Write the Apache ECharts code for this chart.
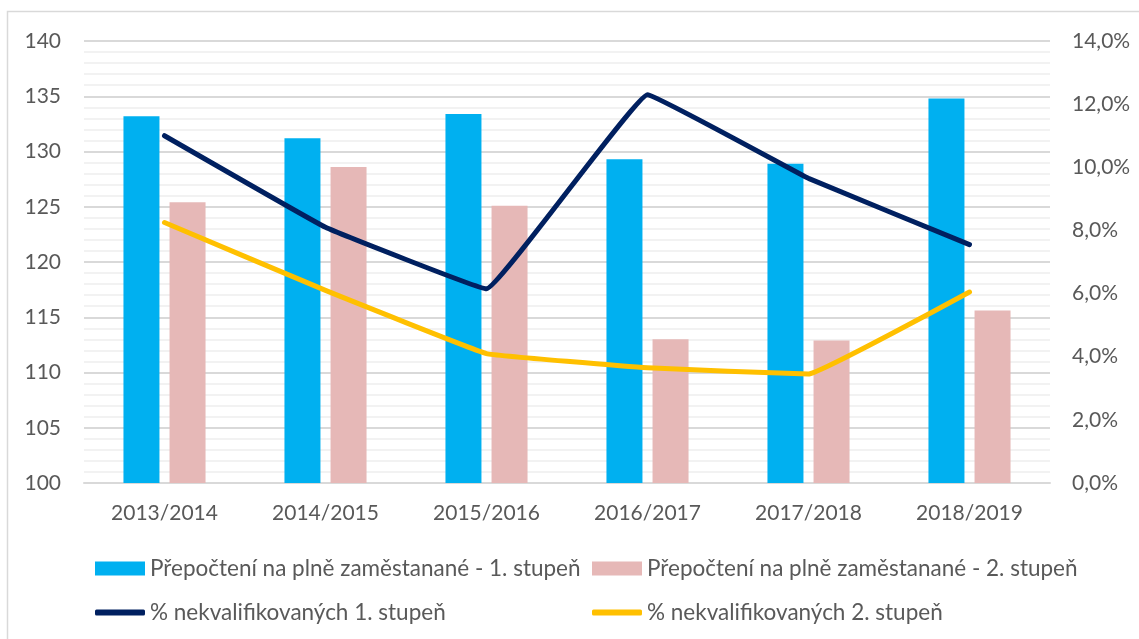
<!DOCTYPE html>
<html>
<head>
<meta charset="utf-8">
<script src="https://cdn.jsdelivr.net/npm/echarts@6/dist/echarts.min.js"></script>
<style>
    html, body { margin: 0; padding: 0; background: #fff; }
    #chart { width: 1139px; height: 639px; }
</style>
</head>
<body>
<div id="chart"></div>
<script>
    // školní roky
    const categories = ['2013/2014', '2014/2015', '2015/2016', '2016/2017', '2017/2018', '2018/2019'];
    // přepočtení na plně zaměstnané
    const fte1 = [133.2, 131.2, 133.4, 129.3, 128.9, 134.8];
    const fte2 = [125.4, 128.6, 125.1, 113.0, 112.9, 115.6];
    // % nekvalifikovaných
    const unq1 = [11.0, 8.1, 6.15, 12.3, 9.65, 7.55];
    const unq2 = [8.25, 6.1, 4.1, 3.65, 3.45, 6.05];

    const names = [
        'Přepočtení na plně zaměstanané - 1. stupeň',
        'Přepočtení na plně zaměstanané - 2. stupeň',
        '% nekvalifikovaných 1. stupeň',
        '% nekvalifikovaných 2. stupeň'
    ];

    const font = 'Lato';
    const textColor = '#595959';

    const legendBase = {
        textStyle: { color: textColor, fontSize: 22.5, fontFamily: font },
        itemWidth: 50,
        padding: 0
    };

    let chart = echarts.init(document.getElementById('chart'));
    chart.setOption({
        animation: false,
        graphic: [{
            type: 'rect',
            shape: { x: 7.5, y: 11.5, width: 1140, height: 640 },
            style: { fill: 'none', stroke: '#D9D9D9', lineWidth: 1.5 },
            silent: true
        }],
        grid: { left: 84, right: 89, top: 41, bottom: 156 },
        legend: [
            Object.assign({ data: [names[0]], left: 95, top: 557, icon: 'rect', itemHeight: 14 }, legendBase),
            Object.assign({ data: [names[1]], left: 592, top: 557, icon: 'rect', itemHeight: 14 }, legendBase),
            Object.assign({ data: [names[2]], left: 95, top: 601, icon: 'roundRect', itemHeight: 6 }, legendBase),
            Object.assign({ data: [names[3]], left: 592, top: 601, icon: 'roundRect', itemHeight: 6 }, legendBase),
        ],
        xAxis: {
            type: 'category',
            data: categories,
            axisTick: { show: false },
            axisLine: { lineStyle: { color: '#D9D9D9', width: 2 } },
            axisLabel: { color: textColor, fontSize: 21, fontFamily: font, margin: 20 }
        },
        yAxis: [
            {
                type: 'value',
                min: 100,
                max: 140,
                interval: 5,
                axisLine: { show: false },
                axisTick: { show: false },
                axisLabel: { color: textColor, fontSize: 21, fontFamily: font, margin: 23 },
                splitLine: { lineStyle: { color: '#D9D9D9', width: 2 } },
                minorTick: { show: false, splitNumber: 5 },
                minorSplitLine: { show: true, lineStyle: { color: '#F2F2F2', width: 2 } }
            },
            {
                type: 'value',
                min: 0,
                max: 14,
                interval: 2,
                axisLine: { show: false },
                axisTick: { show: false },
                splitLine: { show: false },
                axisLabel: {
                    color: textColor, fontSize: 21, fontFamily: font, margin: 22,
                    formatter: v => v.toFixed(1).replace('.', ',') + '%'
                }
            }
        ],
        series: [
            {
                name: names[0],
                type: 'bar',
                data: fte1,
                barWidth: 36,
                barGap: '28%',
                itemStyle: { color: '#00B0F0' }
            },
            {
                name: names[1],
                type: 'bar',
                data: fte2,
                barWidth: 36,
                itemStyle: { color: '#E6B8B7' }
            },
            {
                name: names[2],
                type: 'line',
                yAxisIndex: 1,
                data: unq1,
                smooth: 0.06,
                showSymbol: false,
                lineStyle: { color: '#002060', width: 5, cap: 'round', join: 'round' },
                itemStyle: { color: '#002060' }
            },
            {
                name: names[3],
                type: 'line',
                yAxisIndex: 1,
                data: unq2,
                smooth: 0.06,
                showSymbol: false,
                lineStyle: { color: '#FFC000', width: 5, cap: 'round', join: 'round' },
                itemStyle: { color: '#FFC000' }
            }
        ]
    });
</script>
</body>
</html>
